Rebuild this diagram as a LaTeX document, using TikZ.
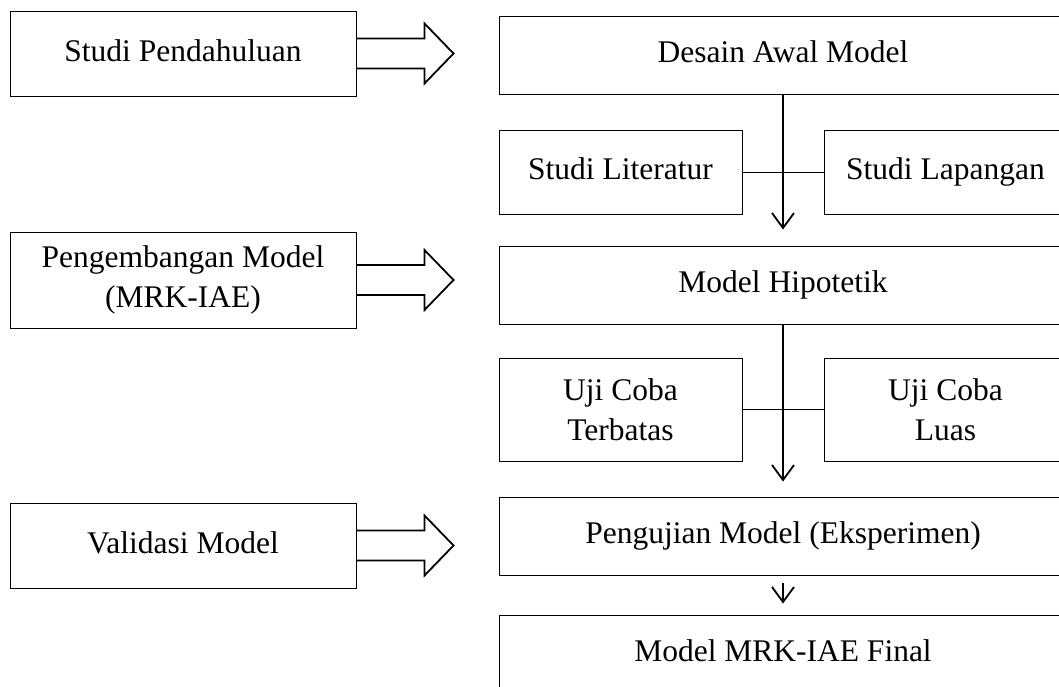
\documentclass[tikz,border=0pt]{standalone}
\usepackage{fontspec}
\setmainfont{Liberation Serif}
\usetikzlibrary{arrows.meta}

\begin{document}
\begin{tikzpicture}[x=1pt, y=-1pt,
    font=\fontsize{31.5}{40}\selectfont,
    box/.style={draw, line width=1pt, align=center, inner sep=0pt},
    oneline/.style={text height=22pt, text depth=7pt},
    sidebox/.style={box, minimum width=346, minimum height=85},
    mainbox/.style={box, oneline, minimum width=568, minimum height=78},
    smallbox/.style={box, minimum width=243, minimum height=84},
    flow/.style={line width=2.2pt, -{Straight Barb[length=15pt, width=22pt, line width=1.8pt]}},
    fat/.style={line width=1.8pt, line join=miter}]
  \useasboundingbox (0,0) rectangle (1059,686);

  % left column
  \node[sidebox, oneline] (sp) at (183,53.5) {Studi Pendahuluan};
  \node[sidebox, minimum height=96] (pm) at (183,280) {Pengembangan Model\\(MRK-IAE)};
  \node[sidebox, oneline] (vm) at (183,545.5) {Validasi Model};

  % right column
  \node[mainbox] (dam) at (783,55) {Desain Awal Model};
  \node[smallbox, oneline] (sl) at (620.5,172) {Studi Literatur};
  \node[smallbox, oneline] (slp) at (945.5,172) {Studi Lapangan};
  \node[mainbox] (mh) at (783,285) {Model Hipotetik};
  \node[smallbox, minimum height=103] (ut) at (620.5,409.5) {Uji Coba\\Terbatas};
  \node[smallbox, minimum height=103] (ul) at (945.5,409.5) {Uji Coba\\Luas};
  \node[mainbox] (pu) at (783,536) {Pengujian Model (Eksperimen)};
  \node[mainbox] (mf) at (783,654) {Model MRK-IAE Final};

  % block arrows
  \foreach \n in {sp,pm,vm} {
    \draw[fat] (\n.east) +(0,-15) -- +(68,-15) -- +(68,-30) -- +(97,0)
      -- +(68,30) -- +(68,15) -- +(0,15);
  }

  % links
  \draw[line width=1pt] (sl.east) -- (slp.west);
  \draw[line width=1pt] (ut.east) -- (ul.west);
  \draw[flow, shorten >=16pt] (dam.south) -- (mh.north);
  \draw[flow, shorten >=15pt] (mh.south) -- (pu.north);
  \draw[flow, line width=1.5pt, shorten <=7pt, shorten >=11pt] (pu.south) -- (mf.north);
\end{tikzpicture}
\end{document}
